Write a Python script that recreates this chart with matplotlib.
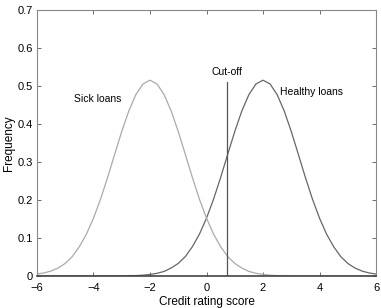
import matplotlib
matplotlib.use('Agg')
import matplotlib.pyplot as plt
from matplotlib.ticker import FormatStrFormatter
import numpy as np

plt.rcParams['font.family'] = ['Liberation Sans', 'DejaVu Sans']

# credit rating score grid, step 0.25
score = np.arange(-6, 6.001, 0.25)

# values
sick = [0.005, 0.008, 0.013, 0.021, 0.033, 0.051, 0.077, 0.110, 0.152, 0.202,
        0.259, 0.320, 0.380, 0.434, 0.477, 0.505, 0.515, 0.505, 0.477, 0.434,
        0.380, 0.320, 0.259, 0.202, 0.152, 0.110, 0.077, 0.051, 0.033, 0.021,
        0.012, 0.007, 0.004, 0.002, 0.001, 0.001, 0, 0, 0, 0,
        0, 0, 0, 0, 0, 0, 0, 0, 0]
healthy = [0, 0, 0, 0, 0, 0, 0, 0, 0, 0,
           0, 0, 0, 0.001, 0.001, 0.002, 0.004, 0.007, 0.012, 0.021,
           0.033, 0.051, 0.077, 0.110, 0.152, 0.202, 0.259, 0.320, 0.380, 0.434,
           0.477, 0.505, 0.515, 0.505, 0.477, 0.434, 0.380, 0.320, 0.259, 0.202,
           0.152, 0.110, 0.077, 0.051, 0.033, 0.021, 0.013, 0.008, 0.005]

cutoff = 0.72
cutoff_top = 0.51

fig = plt.figure(figsize=(3.81, 3.08), dpi=100)
ax = fig.add_axes([0.097, 0.104, 0.890, 0.864])

ax.plot(score, healthy, color='#666666', lw=0.9)
ax.plot(score, sick, color='#aaaaaa', lw=0.9)
ax.plot([cutoff, cutoff], [0, cutoff_top], color='#555555', lw=0.9)

ax.text(-3.0, 0.466, 'Sick loans', fontsize=7.5, ha='right', va='center')
ax.text(cutoff, 0.537, 'Cut-off', fontsize=7.5, ha='center', va='center')
ax.text(2.6, 0.484, 'Healthy loans', fontsize=7.5, ha='left', va='center')

ax.set_xlim(-6, 6)
ax.set_ylim(0, 0.7)
ax.set_xticks(np.arange(-6, 7, 2))
ax.set_yticks(np.arange(0, 0.71, 0.1))
ax.yaxis.set_major_formatter(FormatStrFormatter('%g'))
ax.tick_params(direction='in', top=True, right=True, length=3, width=0.6,
               labelsize=8, color='#555555', pad=3)
ax.tick_params(axis='x', pad=5)
for s in ax.spines.values():
    s.set_color('#888888')
    s.set_linewidth(0.8)
ax.spines['bottom'].set_color('#444444')
ax.spines['bottom'].set_linewidth(1.2)

ax.set_xlabel('Credit rating score', fontsize=8.5, labelpad=2)
ax.set_ylabel('Frequency', fontsize=8.5, labelpad=2)

fig.savefig('out.png', dpi=100)
